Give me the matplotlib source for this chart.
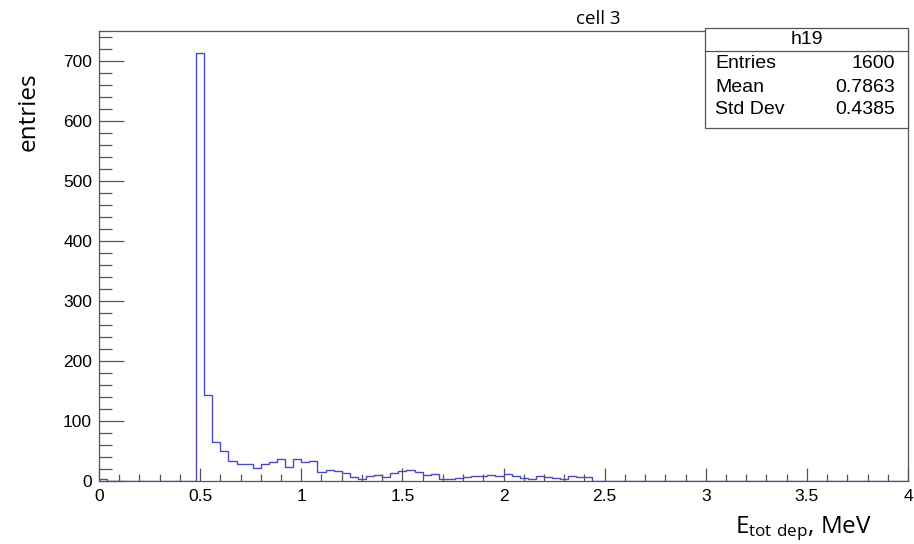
import numpy as np
import matplotlib
matplotlib.use("Agg")
import matplotlib.pyplot as plt
from matplotlib.ticker import MultipleLocator

# histogram h19: 100 bins from 0 to 4 MeV
x_min, x_max, n_bins = 0.0, 4.0, 100
counts = [3, 0, 0, 0, 0, 0, 0, 0, 0, 0, 0, 0,          # 0.00 - 0.48
          714, 143, 65, 50, 33, 28, 28, 21, 28, 31,    # 0.48 - 0.88
          36, 24, 36, 31, 33, 15, 19, 16, 14, 6,       # 0.88 - 1.28
          3, 8, 10, 6, 14, 17, 19, 15, 10, 12,         # 1.28 - 1.68
          4, 3, 5, 7, 8, 9, 10, 9, 11, 8,              # 1.68 - 2.08
          5, 4, 8, 6, 5, 4, 8, 7, 6]                   # 2.08 - 2.44
counts = counts + [0] * (n_bins - len(counts))

stat_name = "h19"
stat_rows = [("Entries", "1600"), ("Mean", "0.7863"), ("Std Dev", "0.4385")]

edges = np.linspace(x_min, x_max, n_bins + 1)

fig = plt.figure(figsize=(9.14, 5.44), dpi=100)
ax = fig.add_axes([99 / 914, 1 - 481 / 544, 809 / 914, 450 / 544])

ax.stairs(counts, edges, color="#4a4ac4", linewidth=1.0)

ax.set_xlim(x_min, x_max)
ax.set_ylim(0, 750)

ax.xaxis.set_major_locator(MultipleLocator(0.5))
ax.xaxis.set_minor_locator(MultipleLocator(0.1))
ax.yaxis.set_major_locator(MultipleLocator(100))
ax.yaxis.set_minor_locator(MultipleLocator(20))
ax.xaxis.set_major_formatter(matplotlib.ticker.FuncFormatter(lambda v, p: f"{v:g}"))

ax.tick_params(axis="both", which="both", direction="in", colors="#555555",
               labelcolor="black", labelsize=12.5, width=0.9)
ax.tick_params(axis="y", which="major", length=18, pad=5)
ax.tick_params(axis="y", which="minor", length=9)
ax.tick_params(axis="x", which="major", length=9.5, pad=6)
ax.tick_params(axis="x", which="minor", length=5)
for lab in ax.get_xticklabels() + ax.get_yticklabels():
    lab.set_fontfamily("Liberation Sans")
for s in ax.spines.values():
    s.set_color("#555555")
    s.set_linewidth(0.9)

# titles
fig.text(598 / 914, 1 - 19 / 544, "cell 3", ha="center", va="center",
         fontsize=13.5, family="Open Sans")
fig.text(29 / 914, 1 - 112 / 544, "entries", ha="center", va="center",
         rotation=90, fontsize=17.5, family="Open Sans")
fig.text(872 / 914, 1 - 533 / 544, r"$\mathregular{E_{tot\ dep}}$, MeV",
         ha="right", va="baseline", fontsize=17.5, family="Open Sans")

# stats box
bx0, bx1, by0, by1, bsep = 705, 908, 28, 128, 51
box = plt.Rectangle((bx0 / 914, 1 - by1 / 544), (bx1 - bx0) / 914, (by1 - by0) / 544,
                    transform=fig.transFigure, facecolor="white",
                    edgecolor="#555555", linewidth=0.9, zorder=5)
fig.add_artist(box)
fig.add_artist(plt.Line2D([bx0 / 914, bx1 / 914], [1 - bsep / 544] * 2,
                          transform=fig.transFigure, color="#555555", lw=0.9, zorder=6))
fig.text((bx0 + bx1) / 2 / 914, 1 - 40 / 544, stat_name, ha="center", va="center",
         fontsize=14, family="Liberation Sans", zorder=7)
row_y = [64, 87, 110]
for (name, val), yy in zip(stat_rows, row_y):
    fig.text(715 / 914, 1 - yy / 544, name, ha="left", va="center",
             fontsize=14, family="Liberation Sans", zorder=7)
    fig.text(895 / 914, 1 - yy / 544, val, ha="right", va="center",
             fontsize=14, family="Liberation Sans", zorder=7)

fig.savefig("out.png", dpi=100)
